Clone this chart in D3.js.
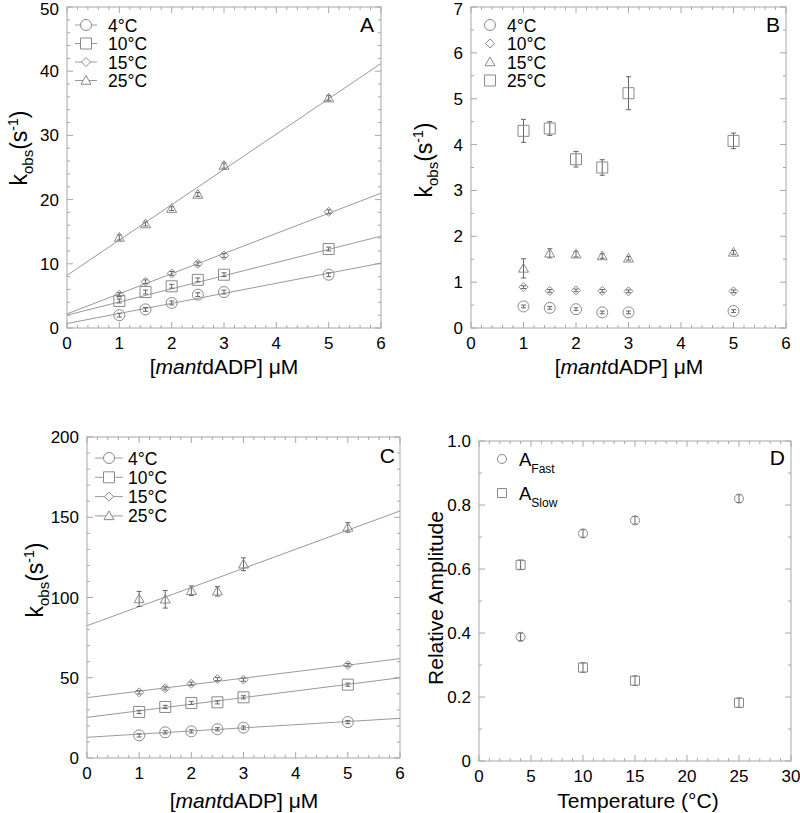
<!DOCTYPE html>
<html><head><meta charset="utf-8">
<script src="https://cdn.jsdelivr.net/npm/d3@7"></script>
<style>body{margin:0;background:#fff;} text{font-family:"Liberation Sans",Arial,sans-serif;fill:#000;}</style>
</head><body>
<svg id="c" width="800" height="813"></svg>
<script>
// ---------- DATA ----------
const concentrations = [1, 1.5, 2, 2.5, 3, 5];
const tempLabels = ["4°C", "10°C", "15°C", "25°C"];

// Panel A (kobs, s^-1)
const aValues = [
  [2.0, 2.9, 3.9, 5.2, 5.6, 8.3],
  [4.2, 5.6, 6.5, 7.5, 8.3, 12.3],
  [5.2, 7.2, 8.5, 10.0, 11.3, 18.1],
  [14.1, 16.2, 18.6, 20.8, 25.3, 35.8]
];
const aErrors = [
  [0.3, 0.3, 0.3, 0.3, 0.3, 0.3],
  [0.3, 0.3, 0.3, 0.3, 0.3, 0.3],
  [0.3, 0.3, 0.3, 0.3, 0.3, 0.3],
  [0.4, 0.3, 0.3, 0.3, 0.4, 0.4]
];
const aFitAt0 = [0.7, 2.0, 2.2, 8.2];
const aFitAt6 = [10.1, 14.3, 21.0, 41.2];

// Panel B (kobs, s^-1), legend order 4, 10, 15, 25
const bValues = [
  [0.47, 0.44, 0.41, 0.34, 0.34, 0.37],
  [0.89, 0.81, 0.82, 0.81, 0.80, 0.80],
  [1.30, 1.63, 1.61, 1.57, 1.52, 1.65],
  [4.30, 4.35, 3.68, 3.50, 5.12, 4.08]
];
const bErrors = [
  [0.03, 0.03, 0.03, 0.03, 0.03, 0.03],
  [0.03, 0.03, 0.03, 0.03, 0.03, 0.03],
  [0.21, 0.10, 0.06, 0.05, 0.04, 0.04],
  [0.25, 0.15, 0.17, 0.17, 0.36, 0.17]
];

// Panel C (kobs, s^-1)
const cValues = [
  [14.1, 16.0, 16.6, 17.9, 18.9, 22.4],
  [28.7, 31.8, 34.3, 34.7, 37.8, 45.7],
  [40.9, 43.4, 46.3, 49.2, 48.8, 57.9],
  [99.1, 98.9, 104.2, 103.9, 120.7, 143.7]
];
const cErrors = [
  [1.0, 1.0, 1.0, 1.0, 1.0, 1.0],
  [1.0, 1.0, 1.0, 1.0, 1.0, 1.0],
  [1.0, 1.0, 1.0, 1.0, 1.0, 1.0],
  [4.7, 5.5, 3.0, 3.0, 4.0, 3.0]
];
const cFitAt0 = [12.9, 25.3, 37.6, 82.4];
const cFitAt6 = [24.7, 50.0, 61.9, 153.9];

// Panel D (relative amplitude)
const temperatures = [4, 10, 15, 25];
const ampFast = [0.388, 0.711, 0.752, 0.820];
const ampSlow = [0.613, 0.292, 0.251, 0.182];
const ampFastErr = [0.012, 0.012, 0.012, 0.012];
const ampSlowErr = [0.015, 0.015, 0.015, 0.015];

// ---------- DRAWING ----------
const svg = d3.select("#c");
const MARK = "#8a8a8a", LINE = "#9a9a9a", FRAME = "#a8a8a8";

function symbolPath(kind, size) {
  const s = size;
  if (kind === "circle") return d3.symbol(d3.symbolCircle, Math.PI * s * s)();
  if (kind === "square") return `M${-s},${-s}H${s}V${s}H${-s}Z`;
  if (kind === "diamond") return `M0,${-s}L${s},0L0,${s}L${-s},0Z`;
  if (kind === "triangle") return `M0,${-s}L${s},${s*0.75}L${-s},${s*0.75}Z`;
}

function panel(o) {
  const g = svg.append("g");
  const x = d3.scaleLinear().domain(o.xDomain).range([o.left, o.right]);
  const y = d3.scaleLinear().domain(o.yDomain).range([o.bottom, o.top]);
  g.append("rect").attr("x", o.left).attr("y", o.top)
    .attr("width", o.right - o.left).attr("height", o.bottom - o.top)
    .attr("fill", "none").attr("stroke", FRAME).attr("stroke-width", 1);
  const tk = g.append("g").attr("stroke", FRAME).attr("stroke-width", 1);
  const xMinor = d3.range(o.xDomain[0], o.xDomain[1] + 1e-9, o.xMinor);
  const yMinor = d3.range(o.yDomain[0], o.yDomain[1] + 1e-9, o.yMinor);
  xMinor.forEach(v => {
    const isMajor = Math.abs(v / o.xMajor - Math.round(v / o.xMajor)) < 1e-6;
    const L = isMajor ? 6 : 3;
    tk.append("line").attr("x1", x(v)).attr("x2", x(v)).attr("y1", o.bottom).attr("y2", o.bottom - L);
    tk.append("line").attr("x1", x(v)).attr("x2", x(v)).attr("y1", o.top).attr("y2", o.top + L);
  });
  yMinor.forEach(v => {
    const isMajor = Math.abs(v / o.yMajor - Math.round(v / o.yMajor)) < 1e-6;
    const L = isMajor ? 6 : 3;
    tk.append("line").attr("y1", y(v)).attr("y2", y(v)).attr("x1", o.left).attr("x2", o.left + L);
    tk.append("line").attr("y1", y(v)).attr("y2", y(v)).attr("x1", o.right).attr("x2", o.right - L);
  });
  d3.range(o.xDomain[0], o.xDomain[1] + 1e-9, o.xMajor).forEach(v => {
    g.append("text").attr("x", x(v)).attr("y", o.bottom + 21).attr("text-anchor", "middle")
      .attr("font-size", 17).text(o.xFmt ? o.xFmt(v) : v);
  });
  d3.range(o.yDomain[0], o.yDomain[1] + 1e-9, o.yMajor).forEach(v => {
    g.append("text").attr("x", o.left - 8).attr("y", Math.max(y(v) + 6, 15)).attr("text-anchor", "end")
      .attr("font-size", 17).text(o.yFmt ? o.yFmt(v) : v);
  });
  return {g, x, y};
}

function drawPoints(p, xs, ys, errs, kind, size) {
  const pts = p.g.append("g");
  xs.forEach((xv, i) => {
    const cx = p.x(xv), cy = p.y(ys[i]);
    const e1 = p.y(ys[i] + errs[i]), e2 = p.y(ys[i] - errs[i]);
    pts.append("line").attr("x1", cx).attr("x2", cx).attr("y1", e1).attr("y2", e2)
      .attr("stroke", "#666").attr("stroke-width", 1);
    [e1, e2].forEach(ey => pts.append("line").attr("x1", cx - 2.5).attr("x2", cx + 2.5)
      .attr("y1", ey).attr("y2", ey).attr("stroke", "#666").attr("stroke-width", 1));
    pts.append("path").attr("d", symbolPath(kind, size)).attr("transform", `translate(${cx},${cy})`)
      .attr("fill", "none").attr("stroke", MARK).attr("stroke-width", 1);
  });
}

function drawFit(p, y0, y6) {
  p.g.append("line").attr("x1", p.x(0)).attr("x2", p.x(6)).attr("y1", p.y(y0)).attr("y2", p.y(y6))
    .attr("stroke", LINE).attr("stroke-width", 1);
}

function kobsTitle(cx, cy) {
  const t = svg.append("text").attr("transform", `translate(${cx},${cy}) rotate(-90)`)
    .attr("text-anchor", "middle").attr("font-size", 23);
  t.append("tspan").text("k");
  t.append("tspan").attr("font-size", 15).attr("dy", 6).text("obs");
  t.append("tspan").attr("dy", -6).text("(s");
  t.append("tspan").attr("font-size", 14).attr("dy", -9).text("-1");
  t.append("tspan").attr("dy", 9).text(")");
}
function mantTitle(cx, cy) {
  const t = svg.append("text").attr("x", cx).attr("y", cy).attr("text-anchor", "middle").attr("font-size", 21);
  t.append("tspan").text("[");
  t.append("tspan").attr("font-style", "italic").text("mant");
  t.append("tspan").text("dADP] \u03BCM");
}

const kindsAC = ["circle", "square", "diamond", "triangle"];
const sizesAC = [5.5, 5.5, 4.5, 5];

// Panel A
const pA = panel({left: 67, right: 381, top: 7, bottom: 328, xDomain: [0, 6], yDomain: [0, 50],
  xMajor: 1, xMinor: 0.2, yMajor: 10, yMinor: 2});
aValues.forEach((vals, s) => {
  drawFit(pA, aFitAt0[s], aFitAt6[s]);
  drawPoints(pA, concentrations, vals, aErrors[s], kindsAC[s], sizesAC[s]);
});
tempLabels.forEach((lab, i) => {
  const ly = 25 + i * 18.5;
  pA.g.append("line").attr("x1", 75).attr("x2", 97).attr("y1", ly).attr("y2", ly).attr("stroke", LINE);
  pA.g.append("path").attr("d", symbolPath(kindsAC[i], sizesAC[i])).attr("transform", `translate(86,${ly})`)
    .attr("fill", "#fff").attr("stroke", MARK);
  pA.g.append("text").attr("x", 108).attr("y", ly + 6.5).attr("font-size", 17.5).text(lab);
});
pA.g.append("text").attr("x", 374).attr("y", 32).attr("text-anchor", "end").attr("font-size", 21).text("A");
kobsTitle(27, 148);
mantTitle(224, 374);

// Panel B
const kindsB = ["circle", "diamond", "triangle", "square"];
const sizesB = [5.5, 4.5, 5, 5.5];
const pB = panel({left: 471, right: 786, top: 7, bottom: 328, xDomain: [0, 6], yDomain: [0, 7],
  xMajor: 1, xMinor: 0.2, yMajor: 1, yMinor: 0.5});
bValues.forEach((vals, s) => drawPoints(pB, concentrations, vals, bErrors[s], kindsB[s], sizesB[s]));
tempLabels.forEach((lab, i) => {
  const ly = 25 + i * 18.5;
  pB.g.append("path").attr("d", symbolPath(kindsB[i], sizesB[i])).attr("transform", `translate(490,${ly})`)
    .attr("fill", "none").attr("stroke", MARK);
  pB.g.append("text").attr("x", 507).attr("y", ly + 6.5).attr("font-size", 17.5).text(lab);
});
pB.g.append("text").attr("x", 780).attr("y", 32).attr("text-anchor", "end").attr("font-size", 21).text("B");
kobsTitle(432, 160);
mantTitle(629, 374);

// Panel C
const pC = panel({left: 87, right: 400, top: 437, bottom: 758, xDomain: [0, 6], yDomain: [0, 200],
  xMajor: 1, xMinor: 0.2, yMajor: 50, yMinor: 10});
cValues.forEach((vals, s) => {
  drawFit(pC, cFitAt0[s], cFitAt6[s]);
  drawPoints(pC, concentrations, vals, cErrors[s], kindsAC[s], sizesAC[s]);
});
tempLabels.forEach((lab, i) => {
  const ly = 458 + i * 19.3;
  pC.g.append("line").attr("x1", 95).attr("x2", 123).attr("y1", ly).attr("y2", ly).attr("stroke", LINE);
  pC.g.append("path").attr("d", symbolPath(kindsAC[i], sizesAC[i])).attr("transform", `translate(109,${ly})`)
    .attr("fill", "#fff").attr("stroke", MARK);
  pC.g.append("text").attr("x", 128).attr("y", ly + 6.5).attr("font-size", 17.5).text(lab);
});
pC.g.append("text").attr("x", 395).attr("y", 463).attr("text-anchor", "end").attr("font-size", 21).text("C");
kobsTitle(43, 580);
mantTitle(244, 808);

// Panel D
const pD = panel({left: 479, right: 791, top: 441, bottom: 761, xDomain: [0, 30], yDomain: [0, 1],
  xMajor: 5, xMinor: 1, yMajor: 0.2, yMinor: 0.1, yFmt: v => v === 0 ? "0" : d3.format(".1f")(v)});
drawPoints(pD, temperatures, ampFast, ampFastErr, "circle", 4.5);
drawPoints(pD, temperatures, ampSlow, ampSlowErr, "square", 4.5);
[["circle", "Fast", 459], ["square", "Slow", 493]].forEach(([k, sub, ly]) => {
  pD.g.append("path").attr("d", symbolPath(k, 4.5)).attr("transform", `translate(502,${ly})`)
    .attr("fill", "none").attr("stroke", MARK);
  const t = pD.g.append("text").attr("x", 519).attr("y", ly + 7).attr("font-size", 18.5);
  t.append("tspan").text("A");
  t.append("tspan").attr("font-size", 12).attr("dy", 7).text(sub);
});
pD.g.append("text").attr("x", 785).attr("y", 465).attr("text-anchor", "end").attr("font-size", 21).text("D");
svg.append("text").attr("transform", "translate(443,598) rotate(-90)").attr("text-anchor", "middle")
  .attr("font-size", 21).text("Relative Amplitude");
svg.append("text").attr("x", 638).attr("y", 808).attr("text-anchor", "middle").attr("font-size", 21).text("Temperature (°C)");
</script>
</body></html>
